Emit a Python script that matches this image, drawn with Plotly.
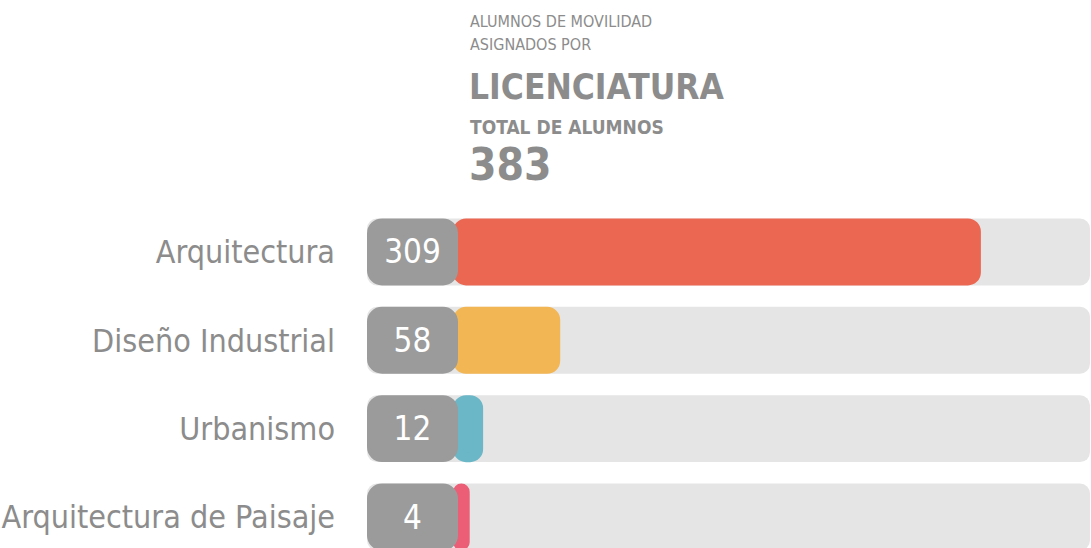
import plotly.graph_objects as go

# ---- data ----
categories = ["Arquitectura", "Diseño Industrial", "Urbanismo", "Arquitectura de Paisaje"]
values = [309, 58, 12, 4]
colors = ["#EC6752", "#F2B654", "#6BB7C7", "#EC5E76"]
total_alumnos = 383
title_lines = ["ALUMNOS DE MOVILIDAD", "ASIGNADOS POR"]
title_main = "LICENCIATURA"
subtitle = "TOTAL DE ALUMNOS"

# ---- layout constants ----
W, H = 1091, 548
ML, MT = 350, 200
PX_PER_UNIT = 1.676          # horizontal scale
ZERO_PX = 458                # pixel where value 0 sits
BADGE_LEFT_PX = 367
TRACK_RIGHT_PX = 1090
ROW_H = 88.5
BAR_FRAC = 67 / ROW_H
STROKE = 10

def px_to_x(px):
    return (px - ZERO_PX) / PX_PER_UNIT

x_min = px_to_x(ML)
x_max = px_to_x(W)
y_top = -(252 - MT) / ROW_H
y_bot = 3 + (H - 517) / ROW_H

NARROW = "Liberation Sans Narrow, DejaVu Sans Condensed, Roboto Condensed, Roboto, sans-serif"
GREY_TXT = "#8c8c8c"

fig = go.Figure()

# background tracks
badge_base = px_to_x(BADGE_LEFT_PX)
track_end = px_to_x(TRACK_RIGHT_PX)
fig.add_trace(go.Bar(
    y=categories, x=[track_end - badge_base] * len(categories), base=badge_base,
    orientation="h", width=BAR_FRAC,
    marker=dict(color="#E5E5E5", cornerradius=10, line=dict(width=0)),
    hoverinfo="skip", showlegend=False,
))

# value bars
fig.add_trace(go.Bar(
    y=categories, x=values, base=0, orientation="h",
    width=(67 - STROKE) / ROW_H,
    marker=dict(color=colors, cornerradius=8, line=dict(color=colors, width=STROKE)),
    showlegend=False, hovertemplate="%{y}: %{x}<extra></extra>",
))

# grey badges with values
fig.add_trace(go.Bar(
    y=categories, x=[-badge_base] * len(categories), base=badge_base,
    orientation="h", width=BAR_FRAC,
    marker=dict(color="#9B9B9B", cornerradius=15, line=dict(width=0)),
    text=[str(v) for v in values], textposition="inside",
    insidetextanchor="middle",
    textfont=dict(family=NARROW, size=33, color="white"),
    hoverinfo="skip", showlegend=False,
))

def pxx(px):
    return (px - ML) / (W - ML)

def pxy(py):
    return (H - py) / (H - MT)

ann = []
ann.append(dict(text=title_lines[0], x=pxx(468), y=pxy(22), font=dict(family=NARROW, size=16, color=GREY_TXT)))
ann.append(dict(text=title_lines[1], x=pxx(468), y=pxy(45), font=dict(family=NARROW, size=16, color=GREY_TXT)))
ann.append(dict(text="<b>" + title_main + "</b>", x=pxx(467), y=pxy(87), font=dict(family=NARROW, size=35, color=GREY_TXT)))
ann.append(dict(text="<b>" + subtitle + "</b>", x=pxx(468), y=pxy(127), font=dict(family=NARROW, size=19, color=GREY_TXT)))
ann.append(dict(text="<b>" + str(total_alumnos) + "</b>", x=pxx(467), y=pxy(164), font=dict(family=NARROW, size=44, color=GREY_TXT)))
for a in ann:
    a.update(xref="paper", yref="paper", xanchor="left", yanchor="middle", showarrow=False)

fig.update_layout(
    width=W, height=H,
    margin=dict(l=ML, r=0, t=MT, b=0, pad=0),
    paper_bgcolor="white", plot_bgcolor="white",
    barmode="overlay",
    annotations=ann,
    xaxis=dict(range=[x_min, x_max], visible=False, fixedrange=True, automargin=False),
    yaxis=dict(range=[y_bot, y_top], showgrid=False, zeroline=False, showline=False,
               ticks="", ticklabelstandoff=14, automargin=False,
               tickfont=dict(family=NARROW, size=32, color=GREY_TXT), fixedrange=True),
)

fig.write_html(
    "out.html",
    config={"displayModeBar": False},
    post_script="document.body.style.margin='0';document.body.style.overflow='hidden';",
)
